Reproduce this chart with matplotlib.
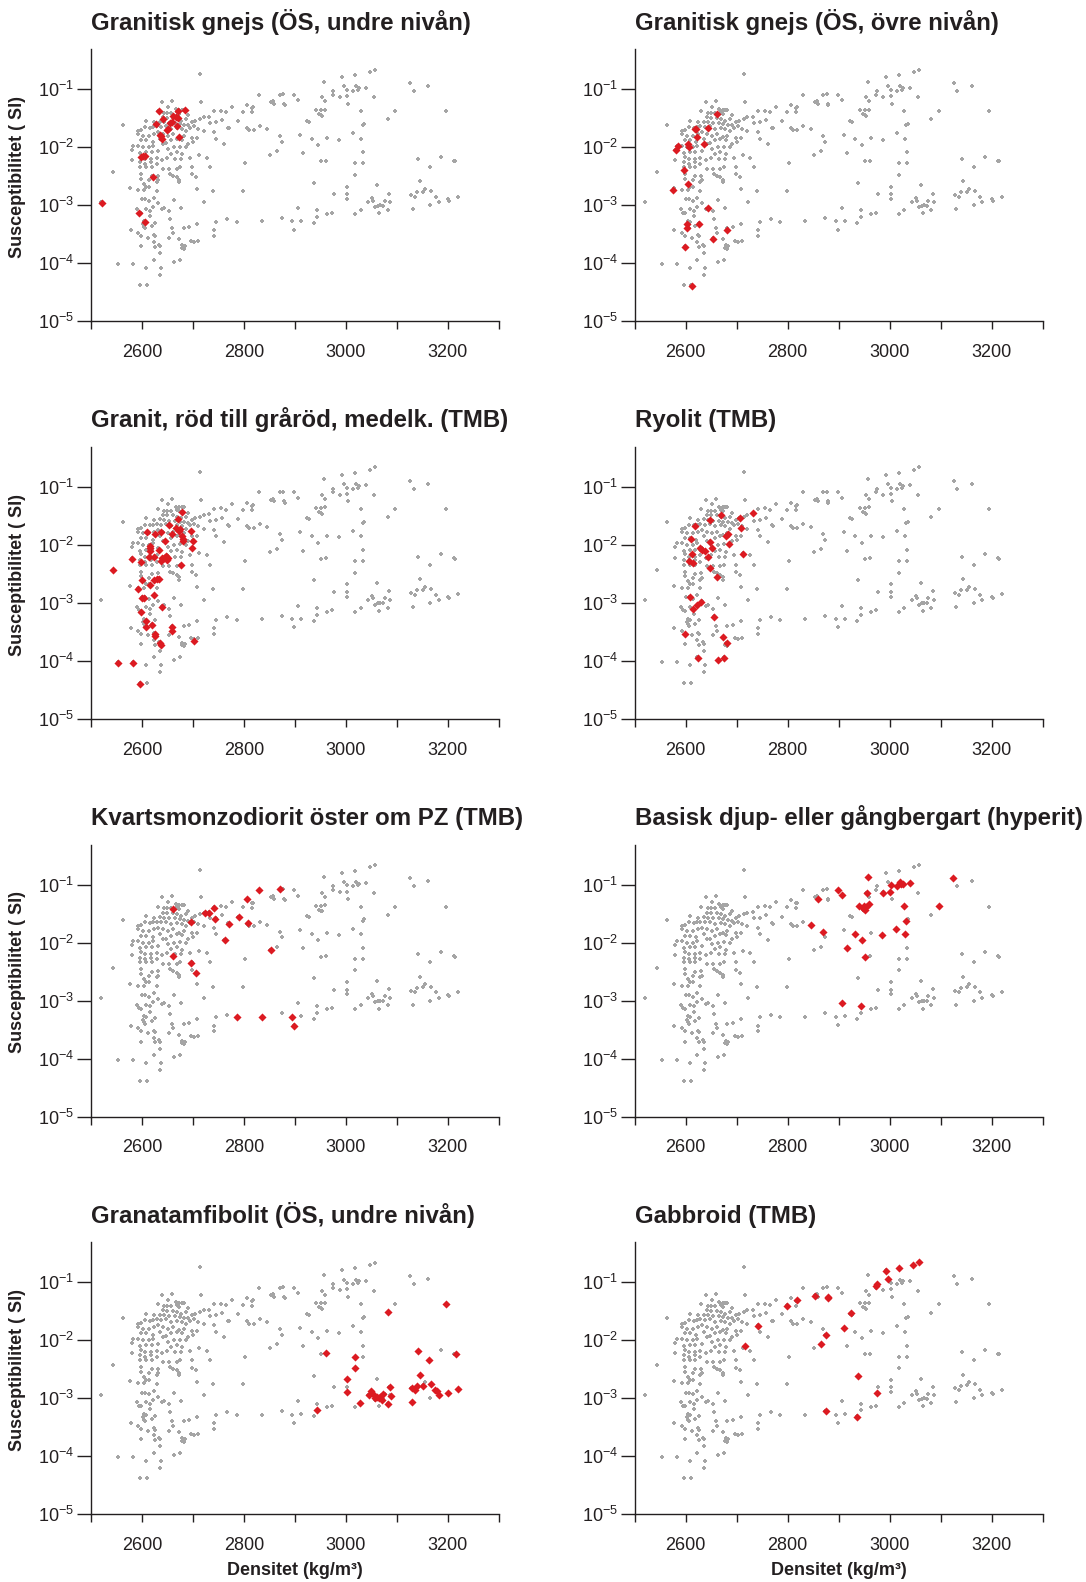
import numpy as np
import matplotlib
matplotlib.use("Agg")
import matplotlib.pyplot as plt
from matplotlib.ticker import LogLocator, LogFormatterSciNotation, NullLocator

plt.rcParams['font.family'] = ['Liberation Sans', 'DejaVu Sans']
plt.rcParams['mathtext.fontset'] = 'custom'
plt.rcParams['mathtext.rm'] = 'Liberation Sans'
plt.rcParams['mathtext.default'] = 'regular'

# ---------------- all samples (grey background cloud) ----------------
# density (kg/m3) and log10 of susceptibility (SI)
gray_dens_a = [2715,2639,2659,2716,2563,2652,2666,2673,2678,2682,
               2755,2742,2765,2631,2644,2650,2658,2669,2673,2691,
               2732,2721,2609,2641,2650,2662,2669,2677,2687,2714,
               2705,2699,2734,2745,2758,2769,2624,2635,2643,2654,
               2665,2674,2683,2691,2695,2703,2711,2721,2741,2606,
               2616,2622,2629,2637,2647,2658,2669,2678,2686,2593,
               2599,2593,2603,2614,2624,2632,2642,2652,2662,2673,
               2682,2698,2709,2745,2598,2609,2621,2635,2647,2658,
               2668,2679,2690,2701,2762,2583,2592,2603,2614,2622,
               2642,2652,2664,2675,2686,2580,2596,2609,2619,2632,
               2658,2668,2679,2694,2712,2727,2580,2599,2607,2618,
               2629,2639,2649,2665,2677,2698,2734,2596,2606,2618,
               2629,2597,2609,2619,2642,2653,2668,2675,2698,2706,
               2544,2599,2619,2631,2656,2662,2668,2673,2599,2614,
               2632,2673,2629,2605]
gray_logk_a = [-0.74,-1.22,-1.20,-1.22,-1.61,-1.30,-1.34,-1.35,-1.35,-1.35,
               -1.37,-1.38,-1.39,-1.38,-1.41,-1.41,-1.41,-1.39,-1.42,-1.45,
               -1.47,-1.48,-1.54,-1.48,-1.49,-1.49,-1.51,-1.54,-1.51,-1.51,
               -1.54,-1.57,-1.58,-1.57,-1.53,-1.66,-1.57,-1.56,-1.57,-1.58,
               -1.58,-1.60,-1.61,-1.62,-1.66,-1.64,-1.68,-1.72,-1.74,-1.65,
               -1.66,-1.65,-1.64,-1.65,-1.64,-1.68,-1.66,-1.68,-1.72,-1.72,
               -1.70,-1.77,-1.80,-1.80,-1.77,-1.74,-1.77,-1.80,-1.77,-1.83,
               -1.80,-1.84,-1.84,-1.85,-1.88,-1.88,-1.91,-1.85,-1.93,-1.88,
               -1.85,-1.87,-1.94,-1.91,-1.95,-1.97,-1.97,-2.00,-2.00,-1.97,
               -1.94,-2.03,-2.00,-1.99,-2.00,-2.04,-2.10,-2.08,-2.08,-2.06,
               -2.11,-2.08,-2.12,-2.18,-2.14,-2.18,-2.22,-2.16,-2.20,-2.20,
               -2.18,-2.22,-2.18,-2.20,-2.20,-2.34,-2.34,-2.26,-2.29,-2.26,
               -2.29,-2.34,-2.34,-2.34,-2.37,-2.37,-2.37,-2.34,-2.47,-2.52,
               -2.43,-2.46,-2.50,-2.49,-2.46,-2.49,-2.52,-2.56,-2.54,-2.57,
               -2.57,-2.60,-2.60,-2.63]

gray_dens_b = [2577,2593,2605,2609,2614,2629,2708,2739,2520,2601,
               2606,2614,2623,2664,2722,2632,2622,2644,2639,2677,
               2653,2767,2590,2595,2598,2608,2616,2616,2655,2745,
               2604,2609,2626,2602,2604,2619,2606,2578,2660,2682,
               2693,2708,2741,2593,2661,2599,2612,2624,2626,2653,
               2673,2696,2703,2711,2741,2623,2634,2636,2598,2626,
               2679,2684,2682,2678,2635,2623,2675,2663,2554,2583,
               2609,2637,2635,2596,2611]
gray_logk_b = [-2.71,-2.74,-2.74,-2.68,-2.68,-2.75,-2.72,-2.76,-2.95,-2.90,
               -2.90,-2.93,-2.87,-2.91,-2.95,-2.97,-3.03,-3.04,-3.06,-3.04,
               -3.10,-3.24,-3.07,-3.13,-3.14,-3.07,-3.10,-3.19,-3.23,-3.29,
               -3.27,-3.29,-3.30,-3.33,-3.37,-3.36,-3.40,-3.43,-3.40,-3.40,
               -3.38,-3.32,-3.43,-3.48,-3.48,-3.53,-3.56,-3.52,-3.54,-3.56,
               -3.59,-3.61,-3.63,-3.61,-3.53,-3.64,-3.68,-3.71,-3.71,-3.72,
               -3.69,-3.71,-3.75,-3.73,-3.83,-3.94,-3.94,-3.98,-4.02,-4.02,
               -4.08,-4.08,-4.20,-4.38,-4.38]

gray_dens_c = [2830,2870,2877,2898,2906,2957,2954,2960,2975,2974,
               2854,2858,2860,2879,2880,2777,2806,2816,2818,2798,
               2817,2942,2948,2951,2954,2952,2959,2789,2771,2807,
               2810,2819,2831,2846,2923,2927,2870,2874,2910,2933,
               2946,2963,2852,2865,2917,2951,2962,2802,2938,2798,
               2977,2906,2943,2944,2964,2973,2874,2786,2835,2895,
               2913,2937,2898]
gray_logk_c = [-1.09,-1.09,-1.08,-1.09,-1.19,-0.87,-1.14,-1.21,-1.03,-1.09,
               -1.22,-1.20,-1.25,-1.25,-1.27,-1.30,-1.27,-1.32,-1.31,-1.39,
               -1.40,-1.36,-1.43,-1.45,-1.46,-1.36,-1.35,-1.55,-1.67,-1.67,
               -1.71,-1.71,-1.64,-1.69,-1.54,-1.56,-1.81,-1.91,-1.78,-1.85,
               -1.96,-1.84,-2.13,-2.07,-2.10,-2.24,-2.23,-2.28,-2.61,-2.76,
               -2.81,-3.05,-3.09,-3.21,-3.15,-3.13,-3.22,-3.29,-3.28,-3.28,
               -3.27,-3.31,-3.42]

gray_dens_d = [2993,3019,3047,3058,2996,3003,3021,3026,3024,3015,
               3040,2988,3002,3056,3126,3161,3133,3004,3029,3097,
               3196,3082,3033,3036,3014,2987,3030,3034,3142,3187,
               3213,3215,3165,3019,3034,3019,3145,3003,3061,3003,
               3003,3085,3128,3140,3155,3152,3167,3136,3177,3201,
               3203,3182,3220,3165,3131,3051,3054,3044,3076,3087,
               3057,3063,3068,3074,3066,3082,3029,3019]
gray_logk_d = [-0.79,-0.76,-0.70,-0.66,-0.95,-1.01,-0.95,-0.98,-1.01,-1.03,
               -0.97,-1.13,-1.12,-1.14,-0.89,-0.94,-1.03,-1.25,-1.38,-1.38,
               -1.38,-1.52,-1.62,-1.60,-1.76,-1.87,-1.85,-2.09,-2.20,-2.16,
               -2.23,-2.24,-2.34,-2.28,-2.28,-2.48,-2.59,-2.68,-2.66,-2.81,
               -2.89,-2.80,-2.83,-2.78,-2.72,-2.77,-2.76,-2.86,-2.86,-2.90,
               -2.92,-2.95,-2.85,-3.00,-3.07,-2.88,-2.92,-2.95,-2.92,-2.95,
               -3.03,-3.01,-3.00,-3.01,-3.14,-3.08,-3.08,-3.15]

# ---------------- highlighted rock types ----------------
titles = ["Granitisk gnejs (ÖS, undre nivån)",
          "Granitisk gnejs (ÖS, övre nivån)",
          "Granit, röd till gråröd, medelk. (TMB)",
          "Ryolit (TMB)",
          "Kvartsmonzodiorit öster om PZ (TMB)",
          "Basisk djup- eller gångbergart (hyperit)",
          "Granatamfibolit (ÖS, undre nivån)",
          "Gabbroid (TMB)"]

gg_undre_dens = [2522,2595,2607,2599,2603,2607,2622,2634,2628,2642,2636,2638,
                 2640,2651,2655,2659,2662,2666,2670,2671,2668,2672,2684,2649]
gg_undre_logk = [-2.96,-3.14,-3.29,-2.17,-2.15,-2.15,-2.51,-1.38,-1.60,-1.51,-1.78,-1.81,
                 -1.85,-1.69,-1.59,-1.57,-1.46,-1.48,-1.50,-1.38,-1.64,-1.83,-1.36,-1.71]

gg_ovre_dens = [2662,2643,2618,2621,2622,2635,2605,2606,2581,2584,2596,
                2605,2576,2643,2603,2603,2627,2654,2682,2599,2612]
gg_ovre_logk = [-1.43,-1.66,-1.69,-1.69,-1.82,-1.94,-1.94,-2.00,-2.04,-1.97,-2.39,
                -2.64,-2.73,-3.05,-3.33,-3.39,-3.32,-3.58,-3.42,-3.72,-4.39]

granit_dens = [2544,2554,2583,2597,2581,2598,2600,2593,2601,2605,2598,2608,2608,2620,
               2626,2626,2635,2637,2639,2624,2615,2624,2630,2633,2610,2615,2616,2616,
               2614,2624,2626,2633,2637,2646,2640,2638,2644,2649,2652,2647,2653,2659,
               2666,2671,2673,2675,2679,2679,2681,2681,2676,2697,2701,2698,2659,2660,2703]
granit_logk = [-2.44,-4.04,-4.04,-4.40,-2.24,-2.30,-2.60,-2.76,-2.91,-2.92,-3.16,-3.31,-3.42,-3.38,
               -3.54,-3.57,-3.70,-3.72,-3.07,-2.87,-2.69,-2.61,-2.58,-2.58,-1.78,-2.01,-2.06,-2.10,
               -2.21,-2.21,-1.81,-2.09,-1.77,-1.94,-2.22,-2.28,-2.22,-2.26,-2.22,-2.19,-1.66,-1.81,
               -1.70,-1.55,-1.76,-1.72,-1.44,-1.84,-1.89,-1.94,-2.35,-1.76,-1.94,-2.06,-3.41,-3.49,-3.66]

ryolit_dens = [2732,2706,2709,2670,2647,2618,2679,2683,2685,2648,2652,2610,2628,2633,2637,
               2643,2613,2607,2614,2648,2661,2712,2609,2622,2631,2614,2655,2599,2673,2681,
               2624,2664,2675]
ryolit_logk = [-1.45,-1.54,-1.71,-1.49,-1.57,-1.67,-1.85,-1.81,-1.98,-1.95,-2.05,-1.89,-2.06,-2.09,-2.11,
               -2.20,-2.16,-2.27,-2.32,-2.39,-2.55,-2.15,-2.90,-3.03,-2.99,-3.11,-3.24,-3.54,-3.59,-3.69,
               -3.95,-3.99,-3.95]

kmd_dens = [2662,2696,2723,2732,2742,2744,2771,2790,2807,2809,2830,2871,2763,2854,
            2662,2697,2706,2786,2836,2895,2899]
kmd_logk = [-1.42,-1.64,-1.48,-1.48,-1.40,-1.59,-1.67,-1.56,-1.25,-1.66,-1.09,-1.08,-1.96,-2.12,
            -2.23,-2.35,-2.53,-3.29,-3.28,-3.28,-3.43]

hyperit_dens = [2846,2859,2869,2898,2907,2917,2933,2945,2951,2940,2947,2951,2954,2959,2950,2955,2958,
                2988,3001,3003,3014,3020,3023,3027,3040,2986,3013,3028,3033,3030,3096,3125,2906,2943]
hyperit_logk = [-1.69,-1.25,-1.81,-1.09,-1.18,-2.10,-1.85,-1.96,-2.24,-1.36,-1.41,-1.44,-1.38,-1.34,-1.37,-1.15,-0.87,
                -1.14,-1.13,-1.00,-1.02,-0.95,-0.99,-0.98,-0.97,-1.87,-1.76,-1.37,-1.62,-1.85,-1.37,-0.88,-3.05,-3.09]

amfib_dens = [2944,2962,3003,3019,3018,3003,3028,3045,3050,3054,3058,3061,3065,3068,3074,3071,3083,3087,
              3089,3083,3129,3136,3130,3142,3146,3140,3151,3164,3167,3176,3179,3182,3196,3201,3216,3220]
amfib_logk = [-3.21,-2.22,-2.67,-2.28,-2.48,-2.89,-3.08,-2.95,-2.87,-2.92,-2.99,-2.97,-3.00,-2.98,-2.93,-3.03,-3.09,-2.80,
              -2.96,-1.51,-2.83,-2.86,-3.07,-2.19,-2.60,-2.78,-2.78,-2.34,-2.76,-2.86,-2.88,-2.94,-1.38,-2.91,-2.24,-2.84]

gabbro_dens = [2717,2742,2799,2819,2854,2879,2880,2875,2865,2910,2924,2938,2875,2937,2974,2975,2976,
               2996,2993,3018,3046,3058]
gabbro_logk = [-2.09,-1.75,-1.40,-1.31,-1.23,-1.25,-1.27,-1.91,-2.06,-1.78,-1.53,-2.62,-3.22,-3.32,-1.07,-1.03,-2.90,
               -0.94,-0.80,-0.76,-0.70,-0.65]

red_sets = [(gg_undre_dens, gg_undre_logk), (gg_ovre_dens, gg_ovre_logk),
            (granit_dens, granit_logk), (ryolit_dens, ryolit_logk),
            (kmd_dens, kmd_logk), (hyperit_dens, hyperit_logk),
            (amfib_dens, amfib_logk), (gabbro_dens, gabbro_logk)]

x_major = [2600, 2800, 3000, 3200]
x_minor = [2500, 2700, 2900, 3100, 3300]

gray_dens = np.array(gray_dens_a + gray_dens_b + gray_dens_c + gray_dens_d, dtype=float)
gray_k = np.power(10.0, np.array(gray_logk_a + gray_logk_b + gray_logk_c + gray_logk_d))

W, H = 1086, 1582
fig = plt.figure(figsize=(W / 100, H / 100), dpi=100)

ink = '#231f20'
gray_col = '#a5a5a5'
red_col = '#dc1a21'

col_left = [90.9, 634.7]
ax_w = 407.8
ax_top0 = 49.2
ax_h = 271.9
row_step = 397.7

for i, (title, (rd, rk)) in enumerate(zip(titles, red_sets)):
    r, c = divmod(i, 2)
    top = ax_top0 + r * row_step
    ax = fig.add_axes([col_left[c] / W, 1 - (top + ax_h) / H, ax_w / W, ax_h / H])
    ax.scatter(gray_dens, gray_k, marker='P', s=7, c=gray_col, linewidths=0, zorder=2)
    ax.scatter(np.array(rd, float), np.power(10.0, np.array(rk)), marker='D', s=17,
               c=red_col, linewidths=0, zorder=3)
    ax.set_yscale('log')
    ax.set_xlim(2500, 3300)
    ax.set_ylim(1e-5, 10 ** -0.308)
    ax.yaxis.set_major_locator(LogLocator(base=10, numticks=10))
    ax.yaxis.set_major_formatter(LogFormatterSciNotation())
    ax.yaxis.set_minor_locator(NullLocator())
    ax.set_xticks(x_major)
    ax.set_xticks(x_minor, minor=True)
    for s in ['top', 'right']:
        ax.spines[s].set_visible(False)
    for s in ['left', 'bottom']:
        ax.spines[s].set_color(ink)
        ax.spines[s].set_linewidth(1.0)
    ax.tick_params(axis='y', which='major', length=10, width=1.0, color=ink,
                   labelsize=13, labelcolor=ink, pad=2)
    ax.tick_params(axis='x', which='both', length=6, width=1.0, color=ink,
                   labelsize=13, labelcolor=ink, pad=10.5)
    ax.set_title(title, loc='left', fontsize=17.3, fontweight='bold', color=ink, pad=14)
    if c == 0:
        ax.set_ylabel('Susceptibilitet ( SI)', fontsize=13, fontweight='bold', color=ink)
        ax.yaxis.set_label_coords(-0.16, 0.53)
    if r == 3:
        ax.set_xlabel('Densitet (kg/m³)', fontsize=13, fontweight='bold', color=ink, labelpad=6)

fig.savefig('out.png', dpi=100)
